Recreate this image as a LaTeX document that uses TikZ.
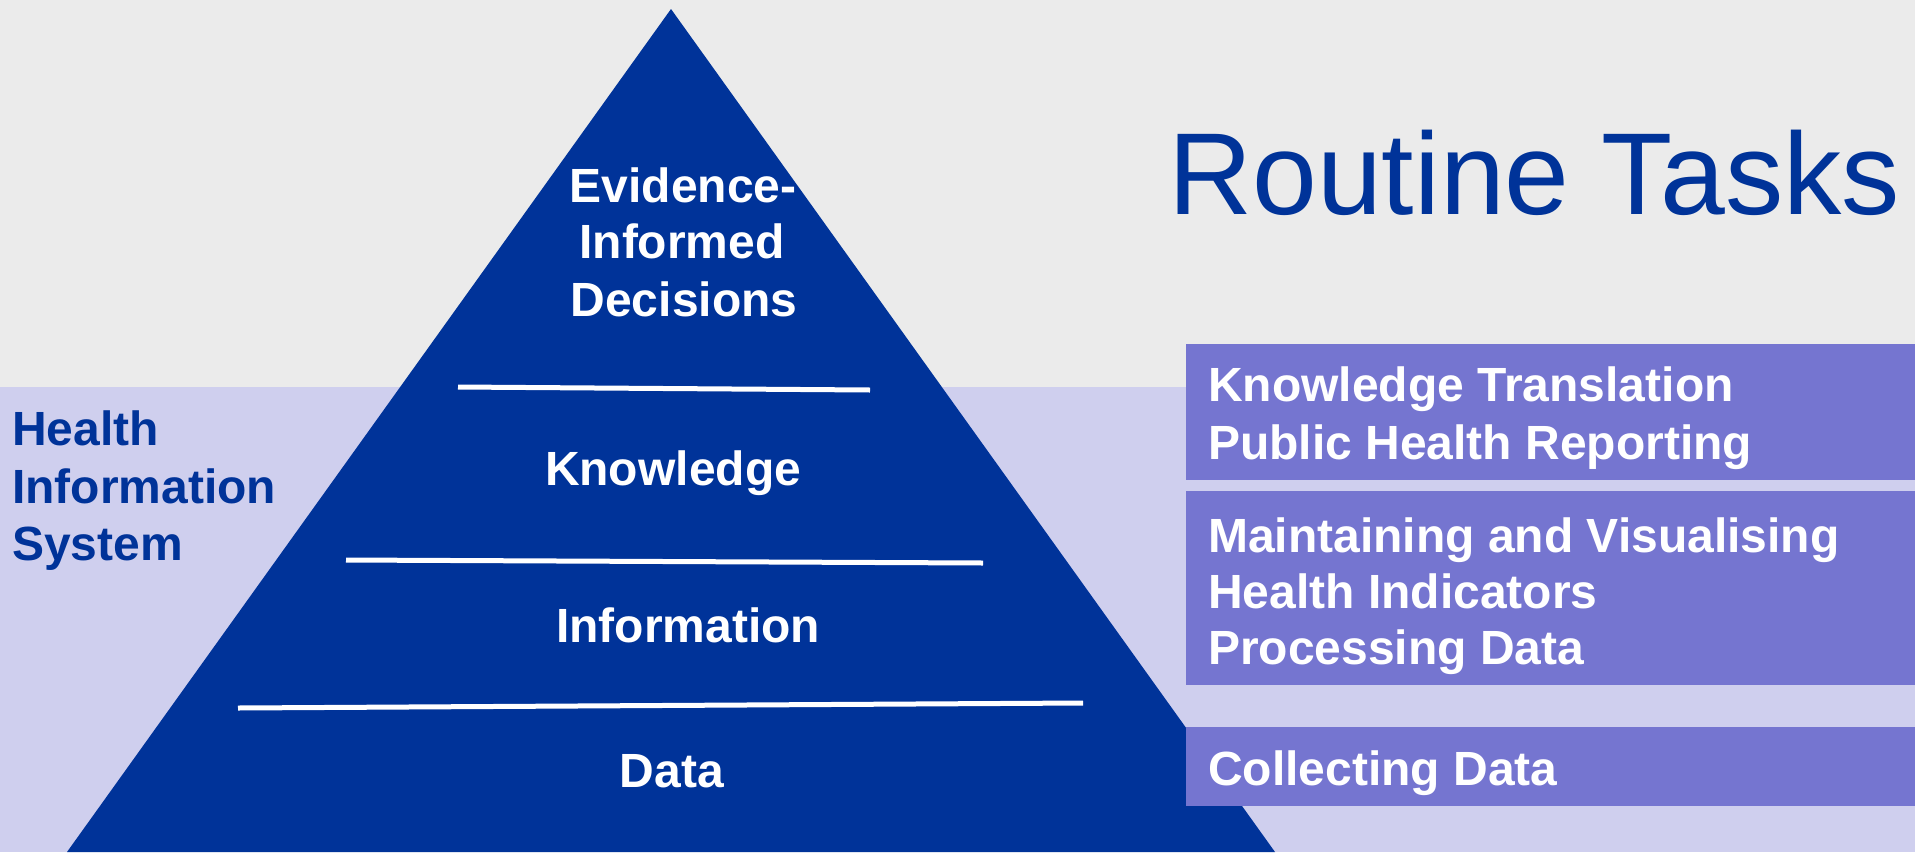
\documentclass[tikz,border=0pt]{standalone}
\usepackage{fontspec}
\setmainfont{Liberation Sans}
\definecolor{bggray}{HTML}{EBEBEB}
\definecolor{lav}{HTML}{CFCFEE}
\definecolor{navy}{HTML}{003399}
\definecolor{boxpurple}{HTML}{7575D0}
\begin{document}
\begin{tikzpicture}[x=1pt,y=-1pt,
  big/.style={font=\fontsize{48}{57}\selectfont\bfseries},
  wtxt/.style={big,text=white,inner sep=0pt},
  ntxt/.style={big,text=navy,inner sep=0pt},
  sep/.style={draw=white,line width=5pt},
  taskbox/.style={fill=boxpurple,draw=none}]
\useasboundingbox (0,0) rectangle (1915,852);
\fill[bggray] (0,0) rectangle (1915,852);
\fill[lav] (0,387) rectangle (1915,852);
% pyramid
\fill[navy] (671,9) -- (1275,852) -- (67,852) -- cycle;
\draw[sep] (458,387) -- (870,390);
\draw[sep] (346,560) -- (983,563);
\draw[sep] (238,708) -- (1083,703);
% pyramid labels
\node[wtxt,anchor=base] (ev1) at (683,202) {Evidence-};
\node[wtxt,anchor=base] (ev2) at (682,258) {Informed};
\node[wtxt,anchor=base] (ev3) at (684,316) {Decisions};
\node[wtxt,anchor=base] (know) at (673,485) {Knowledge};
\node[wtxt,anchor=base] (info) at (688,642) {Information};
\node[wtxt,anchor=base] (data) at (672,787) {Data};
% left label
\node[ntxt,anchor=base west] (his1) at (12,445) {Health};
\node[ntxt,anchor=base west] (his2) at (12,503) {Information};
\node[ntxt,anchor=base west] (his3) at (12,560) {System};
% title
\node[text=navy,inner sep=0pt,anchor=base west,font=\fontsize{116.5}{130}\selectfont] (title) at (1168,214) {Routine Tasks};
% task boxes
\fill[taskbox] (1186,344) rectangle (1915,480);
\fill[taskbox] (1186,491) rectangle (1915,685);
\fill[taskbox] (1186,727) rectangle (1915,806);
\node[wtxt,anchor=base west] (t1) at (1208,401) {Knowledge Translation};
\node[wtxt,anchor=base west] (t2) at (1208,459) {Public Health Reporting};
\node[wtxt,anchor=base west] (t3) at (1208,552) {Maintaining and Visualising};
\node[wtxt,anchor=base west] (t4) at (1208,608) {Health Indicators};
\node[wtxt,anchor=base west] (t5) at (1208,664) {Processing Data};
\node[wtxt,anchor=base west] (t6) at (1208,785) {Collecting Data};
\end{tikzpicture}
\end{document}
